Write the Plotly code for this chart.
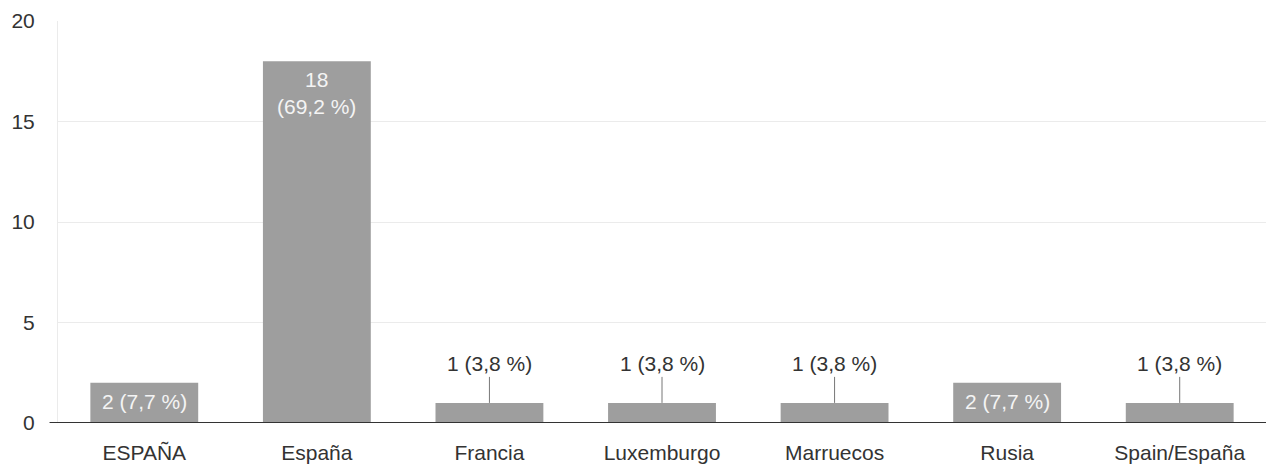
import plotly.graph_objects as go

categories = ["ESPAÑA", "España", "Francia", "Luxemburgo", "Marruecos", "Rusia", "Spain/España"]
counts = [2, 18, 1, 1, 1, 2, 1]
y_ticks = [0, 5, 10, 15, 20]

total = sum(counts)
labels = [f"{c} ({c / total * 100:.1f} %)".replace(".", ",") for c in counts]

FONT = "Liberation Sans, Arial, sans-serif"
BAR = "#9e9e9e"
FS = 21

fig = go.Figure()
fig.add_trace(go.Bar(
    x=categories, y=counts, marker=dict(color=BAR, line=dict(width=0)),
    width=0.625, hoverinfo="skip",
))

for cat, c, lab in zip(categories, counts, labels):
    if c >= 2:
        txt = lab.replace(" (", "<br>(") if c >= 10 else lab
        fig.add_annotation(
            x=cat, y=c, text=txt, showarrow=False, yanchor="top", yshift=-5,
            font=dict(family=FONT, size=FS, color="#f4f4f4"),
        )
    else:
        fig.add_annotation(
            x=cat, y=c, text=lab, showarrow=True, arrowhead=0, arrowwidth=1,
            arrowcolor="#777777", ax=0, ay=-39, standoff=0,
            font=dict(family=FONT, size=FS, color="#333333"),
        )

# axis baseline extending slightly left of plot area
fig.add_shape(type="line", xref="paper", yref="y", x0=-0.007, x1=1, y0=0, y1=0,
              line=dict(color="#333333", width=2))

fig.update_layout(
    width=1268, height=472,
    margin=dict(l=58, r=2, t=21, b=49),
    paper_bgcolor="white", plot_bgcolor="white",
    showlegend=False,
    font=dict(family=FONT, size=FS, color="#333333"),
)
fig.update_xaxes(
    showline=False, showgrid=False, ticks="",
    tickfont=dict(family=FONT, size=FS, color="#333333"),
    ticklabelstandoff=15,
)
fig.update_yaxes(
    range=[0, 20], tickvals=y_ticks, showgrid=True, gridcolor="#ebebeb", gridwidth=1,
    zeroline=False, showline=True, linecolor="#ebebeb", linewidth=1,
    ticks="", tickfont=dict(family=FONT, size=FS, color="#333333"),
    ticklabelstandoff=18,
)

fig.write_html("out.html")
